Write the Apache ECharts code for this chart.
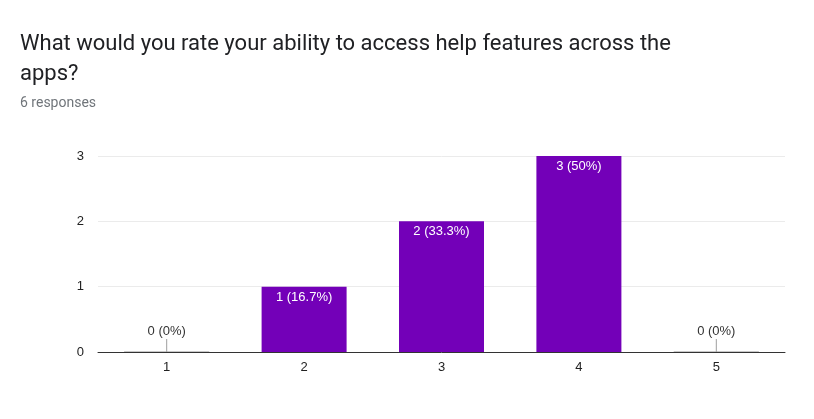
<!DOCTYPE html>
<html>
<head>
<meta charset="utf-8">
<script src="https://cdn.jsdelivr.net/npm/echarts@6/dist/echarts.min.js"></script>
<style>
  html, body { margin: 0; padding: 0; background: #fff; }
  #chart { width: 814px; height: 419px; }
</style>
</head>
<body>
<div id="chart"></div>
<script>
// 评分分布数据
var categories = ['1', '2', '3', '4', '5']
var counts = [0, 1, 2, 3, 0]
var percents = ['0%', '16.7%', '33.3%', '50%', '0%']
var yTicks = [0, 1, 2, 3]

var chart = echarts.init(document.getElementById('chart'), null, { renderer: 'canvas' })
var labelFont = '"Liberation Sans", Arial, sans-serif'

function labelText(i) {
  return counts[i] + ' (' + percents[i] + ')'
}

// 值为 0 的类别：画一条灰色底线和一根短竖线，标签放在上面
var zeroItems = []
counts.forEach(function (v, i) {
  if (v === 0) zeroItems.push([i, 0])
})

var option = {
  backgroundColor: '#fff',
  animation: false,
  textStyle: { fontFamily: labelFont },
  title: {
    text: 'What would you rate your ability to access help features across the\napps?',
    subtext: '6 responses',
    left: 15,
    top: 24,
    itemGap: 7,
    textStyle: { fontSize: 22, fontWeight: 'normal', color: '#202124', lineHeight: 30, fontFamily: 'Roboto, Arial, sans-serif' },
    subtextStyle: { fontSize: 14, color: '#70757a', fontFamily: 'Roboto, Arial, sans-serif' }
  },
  grid: { left: 98, right: 29, top: 156, bottom: 67 },
  xAxis: {
    type: 'category',
    data: categories,
    axisLine: { lineStyle: { color: '#333', width: 1 } },
    axisTick: { show: false },
    axisLabel: { color: '#222', fontSize: 13, margin: 9 }
  },
  yAxis: {
    type: 'value',
    min: 0,
    max: yTicks[yTicks.length - 1],
    interval: 1,
    axisLine: { show: false },
    axisTick: { show: false },
    axisLabel: { color: '#222', fontSize: 13, margin: 14 },
    splitLine: { lineStyle: { color: '#ebebeb' } }
  },
  series: [
    {
      type: 'bar',
      data: counts,
      barWidth: 85,
      itemStyle: { color: '#7300b8' },
      label: {
        show: true,
        position: 'insideTop',
        distance: 4,
        color: '#fff',
        fontSize: 13,
        formatter: function (p) { return p.value > 0 ? labelText(p.dataIndex) : '' }
      }
    },
    {
      type: 'custom',
      data: zeroItems,
      z: 5,
      renderItem: function (params, api) {
        var pt = api.coord([api.value(0), api.value(1)])
        var half = api.size([1, 0])[0] * 0.31
        var i = api.value(0)
        return {
          type: 'group',
          children: [
            { type: 'line', shape: { x1: pt[0] - half, y1: pt[1] - 0.5, x2: pt[0] + half, y2: pt[1] - 0.5 }, style: { stroke: '#c8c8c8', lineWidth: 1 } },
            { type: 'line', shape: { x1: pt[0], y1: pt[1], x2: pt[0], y2: pt[1] - 13 }, style: { stroke: '#9e9e9e', lineWidth: 1 } },
            { type: 'text', x: pt[0], y: pt[1] - 14, style: { text: labelText(i), fill: '#333', fontSize: 13, fontFamily: labelFont, align: 'center', verticalAlign: 'bottom' } }
          ]
        }
      }
    }
  ]
}

chart.setOption(option)
</script>
</body>
</html>
